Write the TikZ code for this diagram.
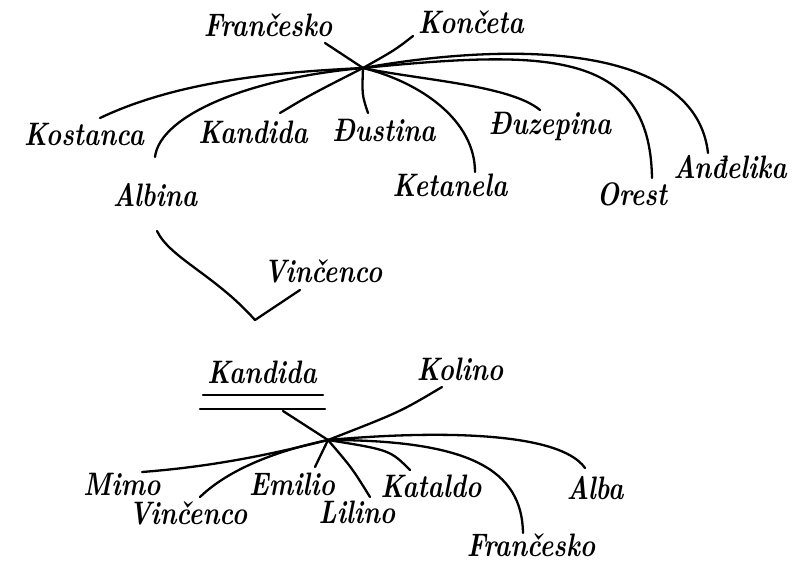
\documentclass[tikz,border=0pt]{standalone}
\newcommand\hwtext[1]{\scalebox{1}[1.25]{#1}}
\begin{document}
\begin{tikzpicture}[x=1pt,y=-1pt,
  pname/.style={font=\fontsize{26}{28}\selectfont\bfseries\itshape, inner sep=0pt},
  stroke/.style={line width=2.3pt, line cap=round, line join=round}]
\useasboundingbox (0,0) rectangle (807,563);
% ---- top family ----
\node[pname] (fr1) at (268,25) {\hwtext{Frančesko}};
\node[pname] (kon) at (471,22) {\hwtext{Končeta}};
\node[pname] (kos) at (84,134) {\hwtext{Kostanca}};
\node[pname] (kan1) at (253,132) {\hwtext{Kandida}};
\node[pname] (dus) at (384,130) {\hwtext{Đustina}};
\node[pname] (duz) at (550,127) {\hwtext{Đuzepina}};
\node[pname] (alb1) at (155,195) {\hwtext{Albina}};
\node[pname] (ket) at (450,185) {\hwtext{Ketanela}};
\node[pname] (ore) at (632,194) {\hwtext{Orest}};
\node[pname] (and) at (730,167) {\hwtext{Anđelika}};
\coordinate (hub1) at (363,68);
\coordinate (fr1e) at (325,43);
\coordinate (kone) at (413,36);
\coordinate (kose) at (100,118);
\coordinate (albe) at (155,157);
\coordinate (kane) at (280,113);
\coordinate (duse) at (368,113);
\coordinate (duze) at (540,110);
\coordinate (kete) at (475,172);
\coordinate (oree) at (652,178);
\coordinate (ande) at (708,153);
\draw[stroke] (fr1e) -- (hub1);
\draw[stroke] (kone) .. controls (395,50) .. (hub1);
\draw[stroke] (kose) .. controls (180,80) and (280,72) .. (hub1);
\draw[stroke] (albe) .. controls (160,115) and (250,78) .. (hub1);
\draw[stroke] (kane) .. controls (310,95) .. (hub1);
\draw[stroke] (duse) .. controls (362,95) .. (hub1);
\draw[stroke] (hub1) .. controls (420,80) and (510,85) .. (duze);
\draw[stroke] (hub1) .. controls (420,82) and (475,120) .. (kete);
\draw[stroke] (hub1) .. controls (545,50) and (650,49) .. (oree);
\draw[stroke] (hub1) .. controls (520,40) and (696,46) .. (ande);
% ---- middle ----
\node[pname] (vin1) at (323,271) {\hwtext{Vinčenco}};
\coordinate (va) at (157,231);
\coordinate (vb) at (255,320);
\coordinate (vc) at (300,290);
\draw[stroke] (va) .. controls (170,258) and (215,275) .. (vb) -- (vc);
% ---- bottom family ----
\node[pname] (kan2) at (262,372) {\hwtext{Kandida}};
\coordinate (ul1a) at (203,395);
\coordinate (ul1b) at (323,395);
\coordinate (ul2a) at (200,409);
\coordinate (ul2b) at (325,409);
\draw[stroke] (ul1a) -- (ul1b);
\draw[stroke] (ul2a) -- (ul2b);
\node[pname] (kol) at (460,369) {\hwtext{Kolino}};
\node[pname] (mim) at (122,484) {\hwtext{Mimo}};
\node[pname] (vin2) at (188,513) {\hwtext{Vinčenco}};
\node[pname] (emi) at (292,484) {\hwtext{Emilio}};
\node[pname] (lil) at (357,512) {\hwtext{Lilino}};
\node[pname] (kat) at (431,486) {\hwtext{Kataldo}};
\node[pname] (alb2) at (595,488) {\hwtext{Alba}};
\node[pname] (fr2) at (531,545) {\hwtext{Frančesko}};
\coordinate (hub2) at (328,440);
\coordinate (ulx) at (283,411);
\coordinate (kole) at (442,387);
\coordinate (mime) at (142,472);
\coordinate (vin2e) at (200,497);
\coordinate (emie) at (315,467);
\coordinate (lile) at (370,497);
\coordinate (kate) at (410,470);
\coordinate (alb2e) at (585,468);
\coordinate (fr2e) at (523,533);
\draw[stroke] (ulx) -- (hub2);
\draw[stroke] (kole) .. controls (400,412) .. (hub2);
\draw[stroke] (mime) .. controls (220,466) and (280,452) .. (hub2);
\draw[stroke] (vin2e) .. controls (230,468) and (280,450) .. (hub2);
\draw[stroke] (emie) -- (hub2);
\draw[stroke] (lile) .. controls (352,468) .. (hub2);
\draw[stroke] (kate) .. controls (390,450) .. (hub2);
\draw[stroke] (hub2) .. controls (440,430) and (560,432) .. (alb2e);
\draw[stroke] (hub2) .. controls (470,440) and (522,470) .. (fr2e);
\end{tikzpicture}
\end{document}
